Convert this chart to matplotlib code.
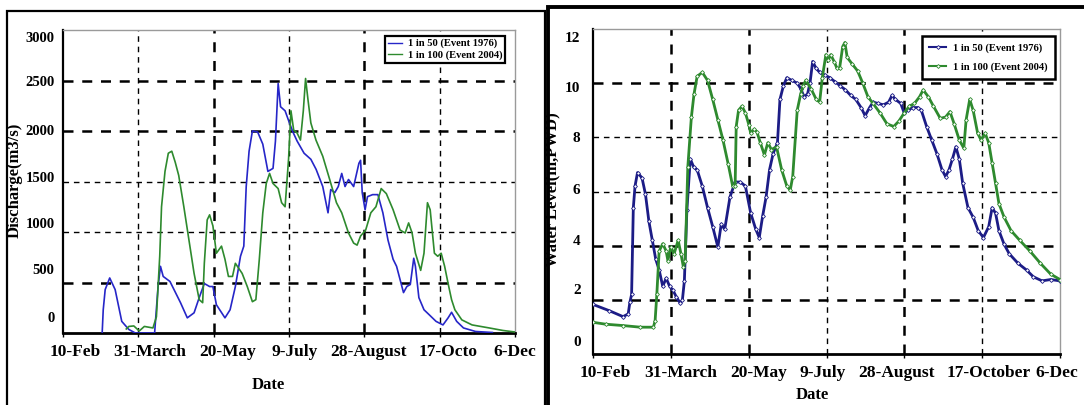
import matplotlib
matplotlib.use("Agg")
import matplotlib.pyplot as plt
import matplotlib.transforms as mtransforms
from matplotlib.patches import Rectangle
from matplotlib.lines import Line2D

# x values are days after 10-Feb
TICK_DAYS = [0, 50, 100, 150, 200, 250, 300]
LEFT_TICK_LABELS = ["10-Feb", "31-March", "20-May", "9-July", "28-August", "17-Octo", "6-Dec"]
RIGHT_TICK_LABELS = ["10-Feb", "31-March", "20-May", "9-July", "28-August", "17-October", "6-Dec"]
SERIES_NAMES = ["1 in 50 (Event 1976)", "1 in 100 (Event 2004)"]

# discharge (m3/s), 1 in 50
q50_day = [26, 26.7, 28, 31, 34.6, 39, 43.7, 48, 60.8, 63.1, 64.7, 66.5, 71, 78, 82.5, 87, 90.4,
           93.8, 97.3, 99.5, 101.8, 107.5, 110.9, 114.4, 117.8, 120, 121.6, 123.5, 125.7, 129.2,
           132.6, 136, 139.4, 141, 142.8, 144.4, 147.4, 150.3, 152.6, 155.4, 160, 164.5, 168,
           172.4, 175.9, 177.7, 180.4, 182.7, 185, 187.2, 189.5, 192.9, 196.4, 197.5, 198.6,
           200.5, 202.1, 205.5, 209, 212.3, 215.7, 219.1, 221.4, 223.7, 226, 228.2, 230.5, 232.8,
           233.9, 236.2, 239.6, 243.1, 247.6, 252.2, 255.6, 257.9, 261.3, 265.8, 273.8, 285]
q50_val = [0, 230, 430, 545, 430, 115, 35, 0, 0, 460, 660, 560, 510, 300, 150, 200, 350,
           490, 460, 460, 280, 150, 230, 460, 760, 860, 1450, 1800, 2000, 1990,
           1870, 1600, 1630, 1900, 2470, 2240, 2200, 2080, 1990, 1900, 1780, 1720, 1620,
           1450, 1190, 1420, 1390, 1450, 1580, 1450, 1520, 1450, 1680, 1710, 1390,
           1220, 1350, 1370, 1370, 1190, 920, 730, 660, 530, 400, 460, 480, 740,
           660, 350, 230, 180, 115, 80, 150, 205, 115, 50, 15, 5]

# discharge (m3/s), 1 in 100
q100_day = [42, 43.7, 47, 50.6, 54, 59.7, 62, 64.2, 65.4, 67.7, 69.9, 72.2, 74.5, 76.8, 80.2,
            83.6, 87, 90.4, 92.7, 93.8, 95.7, 97.3, 99.5, 101.8, 105.2, 107.5, 109.8, 112.5,
            114.4, 118.9, 122.3, 125.7, 128, 130.3, 132.6, 134.9, 137.1, 139.4, 142.8, 145.1,
            147.4, 149.7, 151.3, 153.1, 155.4, 157.6, 159.5, 161, 162.6, 164.5, 167.9, 172.4,
            177, 181.5, 185, 189.5, 192.9, 195.2, 197.5, 200.9, 204.3, 207.7, 211.2, 214.6,
            219.1, 223.7, 227.1, 229.4, 231.7, 233.9, 237.4, 239.6, 241.9, 243.7, 246.5, 248.7,
            251, 253.3, 255.6, 257.9, 260.1, 264.7, 271.5, 282.9, 292, 300]
q100_val = [40, 65, 70, 20, 65, 50, 160, 760, 1250, 1600, 1780, 1800, 1690, 1560, 1250,
            920, 590, 330, 300, 690, 1120, 1170, 1060, 790, 860, 730, 560, 560,
            690, 590, 460, 310, 330, 730, 1190, 1480, 1580, 1480, 1430, 1290,
            1250, 1720, 2200, 2010, 1980, 1910, 2200, 2520, 2310, 2080, 1910, 1750,
            1520, 1290, 1190, 990, 890, 870, 960, 1020, 1190, 1250, 1430, 1380,
            1220, 1020, 990, 1090, 990, 790, 620, 790, 1290, 1220, 790, 760,
            790, 660, 490, 330, 230, 130, 80, 50, 25, 10]

# water level (m, PWD), 1 in 50
wl50_day = [0, 10.4, 19.3, 22.6, 23.7, 24.8, 25.9, 27, 28.6, 31.5, 33.7, 35.9, 38.1, 40.3, 42.5,
            44.8, 47, 49.2, 51.4, 53.6, 55.8, 57.4, 58.7, 60.3, 62.5, 64.7, 66.9, 70.2, 73.6,
            76.9, 80.2, 82.4, 84.6, 88, 91.3, 94.6, 97.9, 101.3, 104.6, 106.8, 109, 111.2,
            113.4, 115.7, 118.5, 120.1, 122.3, 124.5, 127.8, 131.2, 133.4, 135.6, 137.8, 139.4,
            141.1, 143.3, 145.6, 148.9, 152.2, 155.5, 158.9, 162.2, 165.5, 168.8, 172.2, 174.8,
            177.7, 179.9, 183.2, 186.6, 189.9, 192.1, 194.3, 197.7, 199.9, 202.1, 205.4, 208.7,
            210.9, 214.3, 217.6, 220.9, 224.2, 226.5, 228.7, 230.9, 233.1, 235.3, 237.5, 240.9,
            244.2, 247.5, 250.8, 254.2, 256.4, 258.6, 260.8, 264.1, 267.4, 273, 278.5, 282.9,
            288.5, 294, 300]
wl50_val = [1.83, 1.6, 1.38, 1.48, 1.91, 2.2, 5.4, 6.2, 6.7, 6.5, 5.9, 4.9, 4.2, 3.5, 3.1,
            2.5, 2.8, 2.5, 2.35, 2.1, 1.9, 1.98, 2.7, 5.3, 7.2, 6.9, 6.8, 6.2, 5.4,
            4.7, 3.95, 4.8, 4.6, 5.8, 6.35, 6.35, 6.2, 5.2, 4.6, 4.3, 5.1, 5.8,
            6.8, 7.4, 7.8, 9.4, 9.9, 10.2, 10.1, 10.0, 9.8, 9.5, 9.6, 10.0,
            10.8, 10.55, 10.4, 10.3, 10.2, 10.05, 9.9, 9.75, 9.55, 9.4, 9.1, 8.8,
            9.1, 9.3, 9.25, 9.2, 9.3, 9.55, 9.4, 9.25, 8.9, 9.0, 9.1, 9.1,
            9.0, 8.4, 7.9, 7.4, 6.8, 6.55, 6.8, 7.2, 7.65, 7.2, 6.3, 5.4,
            5.05, 4.55, 4.3, 4.7, 5.4, 5.2, 4.55, 4.05, 3.7, 3.35, 3.1, 2.85,
            2.7, 2.75, 2.7]

# water level (m, PWD), 1 in 100
wl100_day = [0, 8.2, 19.3, 30.4, 38.8, 39.9, 41, 42.5, 44.8, 47, 48.1, 49.9, 52.1, 54.7, 56.5,
             58.1, 59.2, 60.9, 63.2, 64.9, 66.9, 70.2, 73.6, 76.9, 80.2, 83.5, 86.9, 89.7, 91.3,
             92, 93.5, 95.7, 97.9, 100.2, 101.3, 103.5, 105.3, 107.5, 110.1, 112.3, 114.6, 117.9,
             121.2, 124.5, 126.7, 128.3, 131.2, 133.4, 134.9, 136.7, 140, 143.4, 145.6, 147.3,
             149.6, 151.1, 152.7, 154.9, 156.7, 158.4, 160.4, 161.8, 163.3, 166.6, 170, 173.3,
             176.6, 179.9, 184.4, 188.8, 193.2, 196.5, 199.9, 203.2, 206.5, 209.8, 212.1, 215.4,
             218.7, 223.1, 226.5, 229.3, 232, 235.3, 238.2, 239.7, 242, 244.2, 247.1, 249.3,
             251.9, 254.2, 256.4, 258.6, 260.8, 264.1, 268.6, 274.1, 280.7, 287.4, 294, 300]
wl100_val = [1.17, 1.1, 1.05, 0.99, 0.99, 1.23, 2.2, 3.8, 4.07, 3.8, 3.45, 3.95, 3.7, 4.2, 3.7,
             3.2, 3.45, 6.9, 8.75, 9.6, 10.25, 10.4, 10.1, 9.4, 8.65, 7.9, 7.0, 6.2, 6.2,
             8.4, 9.0, 9.15, 8.9, 8.45, 8.15, 8.3, 8.2, 7.8, 7.35, 7.8, 7.55, 7.65,
             6.8, 6.2, 6.05, 6.55, 9.0, 9.6, 9.9, 10.1, 9.8, 9.4, 9.3, 10.2,
             11.05, 10.85, 11.05, 10.8, 10.55, 10.55, 11.35, 11.5, 10.95, 10.7, 10.45, 10.0,
             9.5, 9.25, 8.9, 8.5, 8.4, 8.6, 8.9, 9.15, 9.25, 9.5, 9.75, 9.5,
             9.15, 8.7, 8.75, 8.95, 8.5, 7.9, 7.6, 8.65, 9.4, 9.0, 8.15, 7.9,
             8.15, 7.8, 7.05, 6.3, 5.55, 5.05, 4.55, 4.2, 3.8, 3.35, 2.95, 2.75]

Q_TICKS = [0, 500, 1000, 1500, 2000, 2500, 3000]
WL_TICKS = [0, 2, 4, 6, 8, 10, 12]

SERIF = "Liberation Serif"
W, H = 1084, 405


def px_axes(fig, x0, y0, x1, y1):
    return fig.add_axes([x0 / W, 1 - y1 / H, (x1 - x0) / W, (y1 - y0) / H])


def style_axes(ax, ytick_size, xtick_size, ypad):
    for side in ("top", "right"):
        ax.spines[side].set_color("#9a9a9a")
        ax.spines[side].set_linewidth(1.0)
    ax.spines["left"].set_linewidth(1.6)
    ax.spines["bottom"].set_linewidth(2.0)
    ax.tick_params(axis="y", length=0, pad=ypad, labelsize=ytick_size)
    ax.tick_params(axis="x", length=3, width=1, pad=5, labelsize=xtick_size)
    for lab in ax.get_xticklabels() + ax.get_yticklabels():
        lab.set_fontfamily(SERIF)
        lab.set_fontweight("bold")


def nudge(fig, labels, dx_px, dy_px):
    # the scanned originals have slightly misplaced tick labels
    for lab, dx, dy in zip(labels, dx_px, dy_px):
        off = mtransforms.ScaledTranslation(dx / 100, -dy / 100, fig.dpi_scale_trans)
        lab.set_transform(lab.get_transform() + off)


def dashed_grid(ax, xs, x_lw, ys, y_lw):
    for x, lw in zip(xs, x_lw):
        ax.axvline(x, color="black", lw=lw, ls=(0, (4, 3.5)), zorder=1)
    for y, lw in zip(ys, y_lw):
        ax.axhline(y, color="black", lw=lw, ls=(0, (4, 3.5)), zorder=1)


fig = plt.figure(figsize=(W / 100, H / 100), dpi=100)

# ---- left: discharge
ax0 = px_axes(fig, 63, 30, 515, 333)
dashed_grid(ax0, TICK_DAYS[1:-1], [1.0, 1.8, 1.0, 1.8, 1.0],
            Q_TICKS[1:-1], [1.8, 1.0, 1.0, 1.8, 1.8])
ax0.plot(q50_day, q50_val, color="#2626c8", lw=1.2, zorder=3)
ax0.plot(q100_day, q100_val, color="#2e8a2e", lw=1.2, zorder=3)
ax0.set_xlim(0, 300)
ax0.set_ylim(0, 3000)
ax0.set_xticks(TICK_DAYS)
ax0.set_xticklabels(LEFT_TICK_LABELS)
ax0.set_yticks(Q_TICKS)
style_axes(ax0, 10.5, 12.5, 6)
nudge(fig, ax0.get_xticklabels(), [12, 11, 14, 6, 4, 8, 0], [0] * 7)
nudge(fig, ax0.get_yticklabels(), [0] * 7, [-16, -13, -9, -5, -1, 1, 7])
leg0 = ax0.legend(
    handles=[Line2D([], [], color="#2626c8", lw=1), Line2D([], [], color="#2e8a2e", lw=1)],
    labels=SERIES_NAMES, loc="upper right", bbox_to_anchor=(0.99, 0.997),
    prop={"family": SERIF, "weight": "bold", "size": 7.6}, handlelength=1.3,
    handletextpad=0.6, borderpad=0.25, labelspacing=0.2, fancybox=False, framealpha=1)
leg0.get_frame().set_edgecolor("black")
leg0.get_frame().set_linewidth(1.6)

# ---- right: water level
ax1 = px_axes(fig, 593, 29, 1060, 354)
dashed_grid(ax1, TICK_DAYS[1:-1], [1.8, 1.8, 1.0, 1.8, 1.0],
            WL_TICKS[1:-1], [1.8, 1.8, 1.0, 1.0, 1.8])
mk = dict(marker="D", markersize=2.0, markerfacecolor="white", markeredgewidth=0.6)
ax1.plot(wl50_day, wl50_val, color="#1c1c86", lw=2.0, zorder=3, **mk)
ax1.plot(wl100_day, wl100_val, color="#2e8a2e", lw=2.0, zorder=3, **mk)
ax1.set_xlim(0, 300)
ax1.set_ylim(0, 12)
ax1.set_xticks(TICK_DAYS)
ax1.set_xticklabels(RIGHT_TICK_LABELS)
ax1.set_yticks(WL_TICKS)
style_axes(ax1, 11, 12.5, 9)
nudge(fig, ax1.get_xticklabels(), [12, 10, 10, -4, -8, 6, -3], [0] * 7)
nudge(fig, ax1.get_yticklabels(), [0] * 7, [-13, -11, -6, -3, 0, 4, 8])
leg1 = ax1.legend(
    handles=[Line2D([], [], color="#1c1c86", lw=1.5, **mk),
             Line2D([], [], color="#2e8a2e", lw=1.5, **mk)],
    labels=SERIES_NAMES, loc="upper right", bbox_to_anchor=(1.0, 0.995),
    prop={"family": SERIF, "weight": "bold", "size": 7.6}, handlelength=1.6,
    handletextpad=0.6, borderpad=0.7, labelspacing=0.9, fancybox=False, framealpha=1)
leg1.get_frame().set_edgecolor("black")
leg1.get_frame().set_linewidth(1.8)

# axis titles
fig.text(268 / W, 1 - 385 / H, "Date", ha="center", va="center",
         family=SERIF, weight="bold", size=12)
fig.text(15 / W, 1 - 180 / H, "Discharge(m3/s)", ha="center", va="center",
         rotation=90, family=SERIF, weight="bold", size=12)
fig.text(812 / W, 1 - 395 / H, "Date", ha="center", va="center",
         family=SERIF, weight="bold", size=12)
fig.text(552 / W, 1 - 190 / H, "Water Level(m,PWD)", ha="center", va="center",
         rotation=90, family=SERIF, weight="bold", size=12)

# panel frames of the scanned figures
fig.patches.append(Rectangle((7 / W, -0.1), (545 - 7) / W, 1.1 - 11 / H,
                             transform=fig.transFigure, fill=False, ec="black", lw=1.6))
fig.patches.append(Rectangle((548 / W, -0.1), 0.6, 1.1 - 7 / H,
                             transform=fig.transFigure, fill=False, ec="black", lw=2.8))

fig.savefig("out.png", dpi=100)
